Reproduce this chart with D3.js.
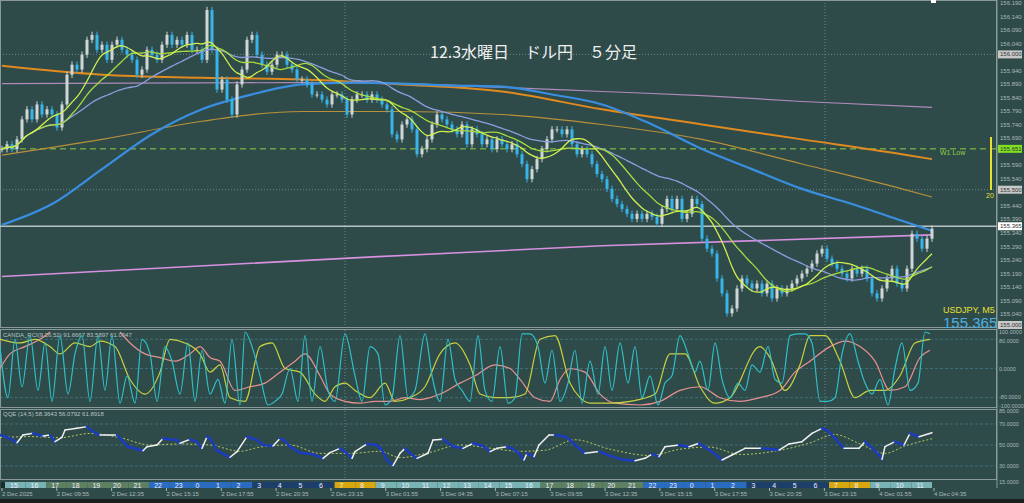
<!DOCTYPE html>
<html><head><meta charset="utf-8">
<script src="https://cdn.jsdelivr.net/npm/d3@7"></script>
<style>body{margin:0;background:#2e4b4a;overflow:hidden}svg{display:block}</style>
</head><body><svg id="c" width="1024" height="503"></svg>
<script>
// ---- data ----
const closes=[155.650,155.668,155.650,155.686,155.760,155.797,155.760,155.815,155.778,155.797,155.778,155.730,155.815,155.925,155.962,155.944,155.999,156.054,156.072,156.017,156.036,155.980,156.036,156.054,156.017,155.999,155.980,155.925,155.944,156.017,155.999,155.980,156.036,156.072,156.036,156.054,156.036,156.072,156.017,156.017,155.980,156.164,156.017,155.870,155.907,155.833,155.778,155.889,155.944,156.054,156.072,155.999,155.962,155.936,155.962,155.999,155.999,155.962,155.944,155.907,155.907,155.889,155.852,155.852,155.833,155.815,155.852,155.852,155.833,155.778,155.833,155.852,155.852,155.833,155.852,155.833,155.815,155.797,155.705,155.686,155.741,155.760,155.723,155.631,155.650,155.686,155.741,155.778,155.760,155.741,155.723,155.705,155.741,155.668,155.723,155.705,155.668,155.686,155.650,155.686,155.668,155.650,155.668,155.631,155.595,155.539,155.576,155.613,155.650,155.686,155.723,155.723,155.705,155.723,155.668,155.631,155.650,155.631,155.595,155.558,155.539,155.503,155.466,155.447,155.429,155.411,155.392,155.411,155.392,155.411,155.400,155.374,155.429,155.466,155.429,155.466,155.392,155.411,155.466,155.447,155.319,155.282,155.264,155.172,155.117,155.043,155.061,155.135,155.172,155.153,155.135,155.153,155.117,155.153,155.098,155.135,155.117,155.135,155.153,155.172,155.190,155.208,155.227,155.264,155.282,155.245,155.227,155.208,155.190,155.172,155.208,155.190,155.208,155.172,155.117,155.098,155.135,155.172,155.208,155.153,155.135,155.208,155.337,155.319,155.282,155.319,155.356];
const maBlue=[[0,155.370],[10,155.447],[20,155.576],[30,155.705],[40,155.797],[50,155.852],[60,155.889],[70,155.896],[80,155.892],[90,155.885],[100,155.881],[110,155.852],[120,155.815],[130,155.741],[140,155.650],[150,155.576],[160,155.503],[170,155.447],[180,155.385],[186,155.348]];
const maOrange=[[0,155.958],[20,155.925],[40,155.914],[60,155.907],[80,155.889],[100,155.863],[120,155.797],[140,155.741],[160,155.686],[180,155.631],[186,155.613]];
const maPurple=[[0,155.892],[60,155.896],[80,155.892],[100,155.878],[120,155.863],[140,155.848],[160,155.826],[186,155.804]];
const maTan=[[0,155.628],[20,155.686],[40,155.753],[60,155.789],[80,155.789],[100,155.778],[120,155.741],[140,155.686],[160,155.595],[180,155.503],[186,155.473]];
const maPink=[[0,155.179],[60,155.238],[120,155.293],[186,155.333]];
const priceTicks=[156.190,156.140,156.090,156.040,155.940,155.890,155.840,155.790,155.740,155.690,155.590,155.540,155.440,155.390,155.340,155.290,155.240,155.190,155.140,155.090,155.040];
const boxTicks=[[156.000,"#c8c8c8"],[155.651,"#7ee020"],[155.500,"#c8c8c8"],[155.365,"#ffffff"],[155.000,"#c8c8c8"]];
const rciFast=[[0,60],[8,-80],[15,80],[22,-50],[30,90],[38,-60],[45,70],[52,-90],[60,90],[68,-70],[75,40],[82,90],[90,-90],[98,90],[105,-60],[112,90],[120,-95],[127,-20],[135,-95],[142,80],[150,40],[157,-90],[165,60],[172,20],[180,-70],[188,70],[195,-90],[202,50],[210,-70],[218,-30],[225,-95],[232,80],[240,-100],[245,100],[252,60],[260,-20],[268,-100],[275,-90],[282,-70],[290,0],[298,-90],[305,90],[312,-90],[320,60],[328,-60],[335,-90],[345,95],[355,-20],[362,-90],[370,60],[378,40],[385,-100],[392,-80],[400,90],[408,-80],[415,-60],[425,95],[432,-20],[440,-90],[448,80],[455,-30],[462,-60],[470,-90],[478,90],[485,-60],[492,-90],[500,60],[508,-95],[515,-80],[522,95],[530,95],[538,60],[545,-40],[552,50],[560,-90],[568,-40],[575,50],[582,-95],[590,20],[598,-70],[605,60],[612,-60],[620,70],[628,-40],[635,60],[642,-80],[650,-20],[658,-100],[665,-40],[672,-20],[680,90],[688,40],[695,-10],[700,20],[708,-60],[715,70],[722,-30],[730,-80],[738,-40],[745,-60],[752,10],[760,-10],[768,60],[775,-30],[782,-40],[790,90],[798,95],[805,95],[812,70],[820,-90],[828,-90],[835,-80],[842,40],[850,95],[858,20],[865,-40],[872,-70],[880,-30],[888,-100],[895,0],[902,70],[910,-60],[918,-40],[925,100],[930,95]];
const rciMid=[[0,80],[20,70],[35,80],[50,60],[60,40],[75,70],[90,60],[100,75],[115,60],[130,-30],[145,-70],[160,-10],[170,80],[185,70],[200,40],[210,-10],[220,10],[230,-80],[245,-90],[260,60],[272,70],[285,0],[300,-10],[315,-70],[325,-90],[335,-50],[345,-40],[355,-60],[370,-80],[385,-40],[395,-90],[410,-80],[425,-50],[440,40],[455,70],[470,10],[480,-70],[495,-80],[510,-80],[525,-70],[540,80],[555,90],[570,-40],[580,-80],[590,-95],[610,-95],[630,-90],[655,-70],[670,40],[685,40],[700,-50],[715,-95],[730,-80],[760,60],[770,30],[785,-60],[800,10],[810,90],[825,90],[840,20],[855,-80],[870,-60],[885,-60],[900,-20],[915,70],[930,80]];
const rciSlow=[[0,0],[10,40],[25,60],[40,80],[50,100]];
const rciSlow2=[[120,100],[130,70],[145,40],[160,30],[175,20],[190,40],[200,60],[210,30],[220,20],[235,-60],[250,-50],[265,-40],[280,-10],[295,20],[305,40],[320,-20],[330,-70],[345,-90],[360,-95],[375,-90],[390,-90],[405,-80],[420,-85],[440,-70],[460,-40],[475,-20],[495,10],[510,0],[520,-30],[535,-80],[550,-90],[560,-30],[570,0],[585,-10],[600,-70],[615,-95],[640,-100],[660,-90],[680,-60],[700,-50],[720,-80],[740,-90],[760,-80],[780,-60],[795,-10],[810,20],[830,60],[845,75],[860,60],[875,20],[890,-60],[905,-50],[920,30],[930,50]];
const qqe=[[0,59.5],[10,56.3],[17,52.2],[23,59.5],[33,61.1],[43,58.6],[50,59.5],[55,53.2],[62,57.3],[65,64.3],[77,65.9],[87,67.5],[93,62.7],[100,59.5],[117,59.5],[128,48.4],[143,44.6],[147,48.4],[157,50],[163,56.3],[177,54.8],[180,51.6],[190,55.4],[197,53.2],[202,46.8],[207,57.9],[210,56.3],[217,44.6],[230,38.3],[237,43.7],[247,57.9],[257,54.8],[263,50],[273,49],[280,56.3],[285,54.1],[290,48.4],[300,42.7],[313,41.1],[323,37.3],[330,42.7],[340,46.8],[347,42.1],[352,37.3],[355,43.7],[367,51],[377,50],[382,45.2],[387,35.7],[393,30.3],[400,42.1],[405,46.8],[410,42.1],[417,37.3],[428,42.1],[433,54.8],[443,55.4],[452,49],[463,46.8],[473,51.6],[483,49],[490,43.7],[497,46.8],[507,48.4],[512,46.8],[519,42.1],[524,35.7],[527,42.1],[534,38.9],[539,50],[549,59.5],[555,59.5],[565,57.9],[570,54.8],[575,50],[585,42.1],[599,43.7],[612,38.9],[622,36.3],[635,35.1],[645,37.3],[652,41.4],[659,38.9],[665,48.4],[679,50],[689,48.4],[699,51.6],[704,48.4],[712,43.7],[722,35.7],[732,40.5],[745,46.8],[762,46.8],[779,45.2],[789,51],[802,53.2],[812,61.1],[822,65.9],[827,64.3],[835,56.3],[844,46.8],[859,46.8],[865,53.2],[869,50],[879,40.5],[882,36.3],[885,48.4],[895,53.2],[904,50],[910,61.1],[919,57.9],[932,61.7]];
const qqeSignal=[[0,57],[30,58],[60,57],[90,61],[120,57],[150,50],[180,51],[210,50],[240,44],[260,48],[290,50],[320,42],[350,42],[380,44],[400,38],[430,43],[460,50],[490,47],[520,44],[545,45],[575,55],[610,46],[650,40],[680,46],[710,48],[740,41],[780,45],[810,52],[835,60],[860,51],[885,42],[905,49],[932,56]];
const hourStart=15, hourCount=45;
const hourColors={lt:"#79b3b3",ol:"#5d7f62",bl:"#2a6cc0",nv:"#1e3e6a",gd:"#d8a70e"};
const dateLabels=["2 Dec 2025","2 Dec 09:55","2 Dec 12:35","2 Dec 15:15","2 Dec 17:55","2 Dec 20:35","2 Dec 23:15","3 Dec 01:55","3 Dec 04:35","3 Dec 07:15","3 Dec 09:55","3 Dec 12:35","3 Dec 15:15","3 Dec 17:55","3 Dec 20:35","3 Dec 23:15","4 Dec 01:55","4 Dec 04:35"];

// ---- drawing ----
const svg=d3.select("#c");
const W=997;
const x=d3.scaleLinear().domain([0,186]).range([2,932]);
const y=d3.scaleLinear().domain([155.0,156.19]).range([325,3]);
const xr=d3.scaleLinear().domain([0,930]).range([0,930]);
const yR=d3.scaleLinear().domain([-100,100]).range([405,332]);
const yQ=d3.scaleLinear().domain([30,70]).range([466,424]);
const xh=d3.scaleLinear().domain([0,hourCount]).range([5,932]);
const xd=d3.scaleLinear().domain([0,17]).range([2,934]);
const g=svg.append("g");
[156.0,155.5].forEach(p=>g.append("line").attr("x1",0).attr("x2",W).attr("y1",y(p)).attr("y2",y(p)).attr("stroke","#6f8686").attr("stroke-dasharray","1,2"));
[345,825].forEach(v=>g.append("line").attr("x1",xr(v)).attr("x2",xr(v)).attr("y1",0).attr("y2",480).attr("stroke","#6f8686").attr("stroke-dasharray","1,2"));
[80,0,-80].forEach(v=>g.append("line").attr("x1",0).attr("x2",W).attr("y1",yR(v)).attr("y2",yR(v)).attr("stroke","#3f6e78").attr("stroke-dasharray","3,2"));
[70,50,30].forEach(v=>g.append("line").attr("x1",0).attr("x2",W).attr("y1",yQ(v)).attr("y2",yQ(v)).attr("stroke","#3f6e78").attr("stroke-dasharray","3,2"));
[[0,328],[329,408],[409,480]].forEach(([a,b])=>svg.append("rect").attr("x",0.5).attr("y",a+0.5).attr("width",W-1).attr("height",b-a-1).attr("fill","none").attr("stroke","#8a9a9a"));
svg.append("line").attr("x1",0).attr("x2",W).attr("y1",y(155.651)).attr("y2",y(155.651)).attr("stroke","#8fd040").attr("stroke-dasharray","6,4");
svg.append("line").attr("x1",0).attr("x2",W).attr("y1",y(155.365)).attr("y2",y(155.365)).attr("stroke","#b8c4c4").attr("stroke-width",1.5);
const L=d3.line().x(d=>x(d[0])).y(d=>y(d[1])).curve(d3.curveMonotoneX);
[[maPurple,"#b08ab8",1.2],[maTan,"#b8903a",1.2],[maOrange,"#e08a20",2],[maPink,"#d890e0",1.6],[maBlue,"#3a8ee0",2.2]].forEach(([d,c,w])=>svg.append("path").attr("d",L(d)).attr("fill","none").attr("stroke",c).attr("stroke-width",w));
const cw=3;
const cg=svg.append("g");
closes.forEach((c,i)=>{const o=i?closes[i-1]:c;const hi=Math.max(o,c)+0.012, lo=Math.min(o,c)-0.012;const up=c>=o;const col=up?"#cfd6d6":"#38b4e8";
 cg.append("line").attr("x1",x(i)).attr("x2",x(i)).attr("y1",y(hi)).attr("y2",y(lo)).attr("stroke",col);
 cg.append("rect").attr("x",x(i)-cw/2).attr("width",cw).attr("y",y(Math.max(o,c))).attr("height",Math.max(1,y(Math.min(o,c))-y(Math.max(o,c)))).attr("fill",col);});
function sma(n){return closes.map((c,i)=>{const s=closes.slice(Math.max(0,i-n+1),i+1);return [i,d3.mean(s)];});}
[[sma(28),"#8c9ee0",1.3],[sma(14),"#a8d840",1.3],[sma(8),"#d0f050",1.3]].forEach(([d,c,w])=>svg.append("path").attr("d",d3.line().x(d=>x(d[0])).y(d=>y(d[1])).curve(d3.curveBasis)(d)).attr("fill","none").attr("stroke",c).attr("stroke-width",w));
const ax=svg.append("g").attr("font-family","Liberation Sans, Arial").attr("font-size",6).attr("fill","#aab8b8");
svg.append("line").attr("x1",W).attr("x2",W).attr("y1",0).attr("y2",488).attr("stroke","#8a9a9a");
priceTicks.forEach(p=>ax.append("text").attr("x",1000).attr("y",y(p)+2).text(p.toFixed(3)));
boxTicks.forEach(([p,c])=>{ax.append("rect").attr("x",998).attr("y",y(p)-4).attr("width",24).attr("height",8).attr("fill",c);ax.append("text").attr("x",1000).attr("y",y(p)+2).attr("fill","#333").text(p.toFixed(3));});
[[100,"100.0000",0],[80,"80.0000",2],[0,"0.0000",0],[-80,"-80.0000",-1],[-100,"-100.0000",1]].forEach(([v,t,o])=>ax.append("text").attr("x",999).attr("y",yR(v)+2+o).attr("font-size",5.5).text(t));
[[85,"85.0000",4.5],[70,"70.0000",2],[50,"50.0000",2],[30,"30.0000",2],[15,"15.0000",2]].forEach(([v,t,o])=>ax.append("text").attr("x",999).attr("y",yQ(v)+o).attr("font-size",5.5).text(t));
svg.append("text").attr("x",430).attr("y",58).attr("fill","#f0f0f0").attr("font-size",16).attr("font-family","Noto Sans CJK JP").text("12.3水曜日　ドル円　５分足");
svg.append("text").attr("x",940).attr("y",y(155.651)+6).attr("fill","#8fd040").attr("font-size",7).attr("font-family","Liberation Sans").text("W1 Low");
svg.append("line").attr("x1",991).attr("x2",991).attr("y1",137).attr("y2",190).attr("stroke","#e8e030").attr("stroke-width",2);
svg.append("text").attr("x",986).attr("y",198).attr("fill","#e8e030").attr("font-size",7).attr("font-family","Liberation Sans").text("20");
svg.append("text").attr("x",943).attr("y",313).attr("fill","#e8e030").attr("font-size",9).attr("font-family","Liberation Sans").text("USDJPY, M5");
svg.append("text").attr("x",943).attr("y",328).attr("fill","#4fb0e0").attr("font-size",15).attr("font-family","Liberation Sans").text("155.365");
svg.append("text").attr("x",3).attr("y",337).attr("fill","#b8c4c4").attr("font-size",6).attr("font-family","Liberation Sans").text("CANDA_RCI(9,26,52) 91.6667 83.5897 61.0347");
svg.append("text").attr("x",3).attr("y",416).attr("fill","#b8c4c4").attr("font-size",6).attr("font-family","Liberation Sans").text("QQE (14,5) 58.3643 56.0792 61.8918");
svg.append("rect").attr("x",931).attr("y",0).attr("width",5).attr("height",3).attr("fill","#fff");
const LR=d3.line().x(d=>xr(d[0])).y(d=>yR(d[1]));
[[rciSlow,"#e89090"],[rciSlow2,"#e89090"],[rciMid,"#c8d040"],[rciFast,"#30c0c8"]].forEach(([d,c])=>svg.append("path").attr("d",LR.curve(d3.curveMonotoneX)(d)).attr("fill","none").attr("stroke",c).attr("stroke-width",1.2));
svg.append("path").attr("d",d3.line().x(d=>xr(d[0])).y(d=>yQ(d[1])).curve(d3.curveMonotoneX)(qqeSignal)).attr("fill","none").attr("stroke","#b8c860").attr("stroke-dasharray","2,2");
for(let i=1;i<qqe.length;i++){const a=qqe[i-1],b=qqe[i];const up=b[1]>=a[1];
 svg.append("line").attr("x1",xr(a[0])).attr("y1",yQ(a[1])).attr("x2",xr(b[0])).attr("y2",yQ(b[1])).attr("stroke",up?"#f0f0f0":"#1c3cc0").attr("stroke-width",up?1.5:2.5).attr("stroke-linecap","round");}
const strip=svg.append("g").attr("font-family","Liberation Sans").attr("font-size",7);
strip.append("rect").attr("x",1).attr("y",482).attr("width",4).attr("height",6).attr("fill","#1a2e2e");
for(let i=0;i<hourCount;i++){const h=(hourStart+i)%24;const k=(h>=9&&h<=16)?"lt":(h>=17&&h<=21)?"ol":(h>=22||h<=2)?"bl":(h>=3&&h<=6)?"nv":"gd";
 strip.append("rect").attr("x",xh(i)).attr("y",482).attr("width",xh(i+1)-xh(i)).attr("height",6).attr("fill",hourColors[k]);
 strip.append("text").attr("x",xh(i)+5).attr("y",487.5).attr("fill","#eef").text(h);}
const dg=svg.append("g").attr("font-family","Liberation Sans").attr("font-size",6).attr("fill","#aab8b8");
dateLabels.forEach((t,i)=>{dg.append("line").attr("x1",xd(i)).attr("x2",xd(i)).attr("y1",488).attr("y2",491).attr("stroke","#aab8b8");dg.append("text").attr("x",xd(i)).attr("y",496).text(t);});
svg.append("rect").attr("x",0).attr("y",499).attr("width",1024).attr("height",4).attr("fill","#1a1f1f");
</script></body></html>
